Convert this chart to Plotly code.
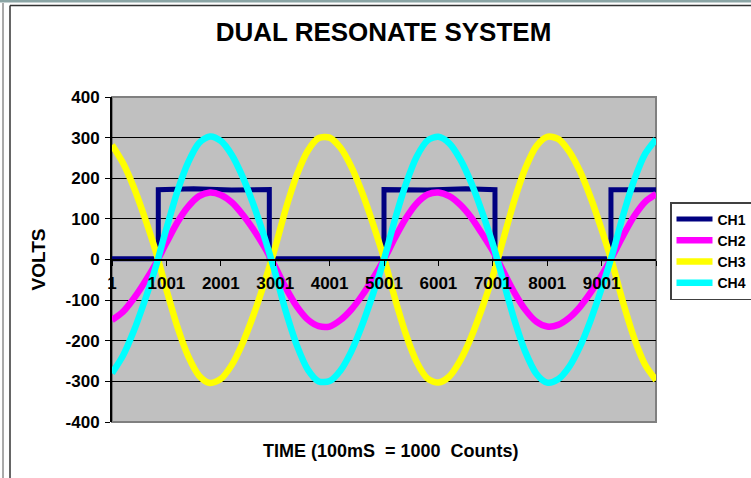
import plotly.graph_objects as go

# ---- data ----
TIME = [1 + 200 * k for k in range(51)]  # sample counts 1, 201, ..., 10001

CH1_TIME = [1, 600, 852, 852, 1500, 2200, 2893, 2893, 3800, 5001, 5001, 5800, 6500, 7041, 7041, 8200, 9173, 9173, 9600, 10001]
CH1 = [2, 3, 2, 172, 174, 171, 172, 2, 3, 2, 172, 171, 174, 172, 2, 3, 2, 172, 173, 172]

CH2 = [-149, -129, -96, -56, -11, 41, 91, 130, 156, 165,
       159, 141, 111, 74, 31, -18, -71, -116, -148, -164,
       -165, -149, -123, -88, -46, 0, 53, 101, 138, 160,
       165, 156, 135, 104, 64, 21, -31, -82, -124, -153,
       -165, -161, -144, -117, -81, -39, 8, 60, 107, 142, 161]

CH3 = [282, 238, 178, 104, 22, -74, -165, -238, -286, -304,
       -294, -260, -206, -137, -58, 30, 127, 209, 268, 299,
       300, 275, 228, 164, 87, 3, -95, -183, -252, -293,
       -303, -288, -249, -192, -121, -41, 53, 147, 225, 279,
       302, 297, 267, 218, 152, 74, -11, -108, -194, -259, -297]

CH4 = [-280, -237, -176, -102, -20, 76, 167, 239, 287, 303,
       292, 258, 204, 135, 56, -33, -130, -212, -271, -300,
       -299, -273, -226, -161, -84, 0, 98, 185, 253, 293,
       302, 286, 247, 190, 118, 38, -56, -150, -228, -281,
       -303, -295, -265, -215, -149, -71, 14, 111, 196, 260, 296]

X_TICKS = [1, 1001, 2001, 3001, 4001, 5001, 6001, 7001, 8001, 9001, 10001]
X_LABELS = ["1", "1001", "2001", "3001", "4001", "5001", "6001", "7001", "8001", "9001", ""]
Y_TICKS = [-400, -300, -200, -100, 0, 100, 200, 300, 400]
Y_LABELS = ["-400", "-300", "-200", "-100", "0", "100", "200", "300", "400"]

TITLE = "DUAL RESONATE SYSTEM"
X_TITLE = "TIME (100mS\u00a0 = 1000\u00a0 Counts)"
Y_TITLE = "VOLTS"

# ---- layout geometry (pixels) ----
W, H = 751, 478
L, R, T, B = 112, 656, 97, 422
FONT = "Liberation Sans, Arial, sans-serif"


def px(x):
    return (x - L) / (R - L)


def py(y):
    return (B - y) / (B - T)


fig = go.Figure()
fig.add_trace(go.Scatter(x=CH1_TIME, y=CH1, name="CH1", mode="lines",
                         line=dict(color="#000080", width=5)))
fig.add_trace(go.Scatter(x=TIME, y=CH2, name="CH2", mode="lines",
                         line=dict(color="#FF00FF", width=6.5, shape="spline", smoothing=0.8)))
fig.add_trace(go.Scatter(x=TIME, y=CH3, name="CH3", mode="lines",
                         line=dict(color="#FFFF00", width=6.5, shape="spline", smoothing=0.8)))
fig.add_trace(go.Scatter(x=TIME, y=CH4, name="CH4", mode="lines",
                         line=dict(color="#00FFFF", width=6.5, shape="spline", smoothing=0.8)))

shapes = [
    # plot-area border
    dict(type="rect", xref="paper", yref="paper", x0=0, x1=1, y0=0, y1=1,
         line=dict(color="#808080", width=2), layer="below"),
    # top band of the frame
    dict(type="rect", xref="paper", yref="paper", x0=px(0), x1=px(W), y0=py(0), y1=py(2.5),
         line=dict(width=0), fillcolor="#8BA5A5"),
    # chart frame lines
    dict(type="line", xref="paper", yref="paper", x0=px(10), x1=px(W), y0=py(5.5), y1=py(5.5),
         line=dict(color="#333333", width=1.5)),
    dict(type="line", xref="paper", yref="paper", x0=px(3), x1=px(3), y0=py(3), y1=py(H),
         line=dict(color="#555555", width=1)),
    dict(type="line", xref="paper", yref="paper", x0=px(10), x1=px(10), y0=py(5.5), y1=py(H),
         line=dict(color="#333333", width=1.5)),
]

annotations = [
    dict(text=X_TITLE, xref="paper", yref="paper", x=px(391), y=py(451), showarrow=False,
         xanchor="center", yanchor="middle",
         font=dict(family=FONT, size=18, color="black", weight="bold")),
    dict(text=Y_TITLE, xref="paper", yref="paper", x=px(38), y=0.5, showarrow=False,
         textangle=-90, xanchor="center", yanchor="middle",
         font=dict(family=FONT, size=19, color="black", weight="bold")),
]

fig.update_layout(
    width=W, height=H,
    margin=dict(l=L, r=W - R, t=T, b=H - B, autoexpand=False),
    paper_bgcolor="white", plot_bgcolor="#C0C0C0",
    title=dict(text=TITLE, x=383.5 / W, xanchor="center", y=1 - 32 / H, yanchor="middle",
               font=dict(family=FONT, size=26, color="black", weight="bold")),
    xaxis=dict(range=[1, 10001], anchor="free", position=0.5,
               tickmode="array", tickvals=X_TICKS, ticktext=X_LABELS,
               showline=True, linecolor="black", linewidth=2,
               ticks="outside", ticklen=5, tickcolor="black", tickwidth=1,
               ticklabelstandoff=3,
               showgrid=False, zeroline=False,
               tickfont=dict(family=FONT, size=17, color="black", weight="bold")),
    yaxis=dict(range=[-400, 400], tickmode="array", tickvals=Y_TICKS, ticktext=Y_LABELS,
               showline=True, linecolor="black", linewidth=2,
               ticks="outside", ticklen=5, tickcolor="black", tickwidth=1,
               ticklabelstandoff=2,
               showgrid=True, gridcolor="black", gridwidth=1, zeroline=False,
               tickfont=dict(family=FONT, size=17, color="black", weight="bold")),
    legend=dict(x=px(670), y=py(202), xanchor="left", yanchor="top",
                bgcolor="white", bordercolor="#404040", borderwidth=1.5,
                itemwidth=36,
                font=dict(family=FONT, size=14, color="black", weight="bold")),
    shapes=shapes,
    annotations=annotations,
    showlegend=True,
)

fig.write_html("out.html", config={"displayModeBar": False},
               post_script="document.body.style.margin='0';document.body.style.overflow='hidden';")
